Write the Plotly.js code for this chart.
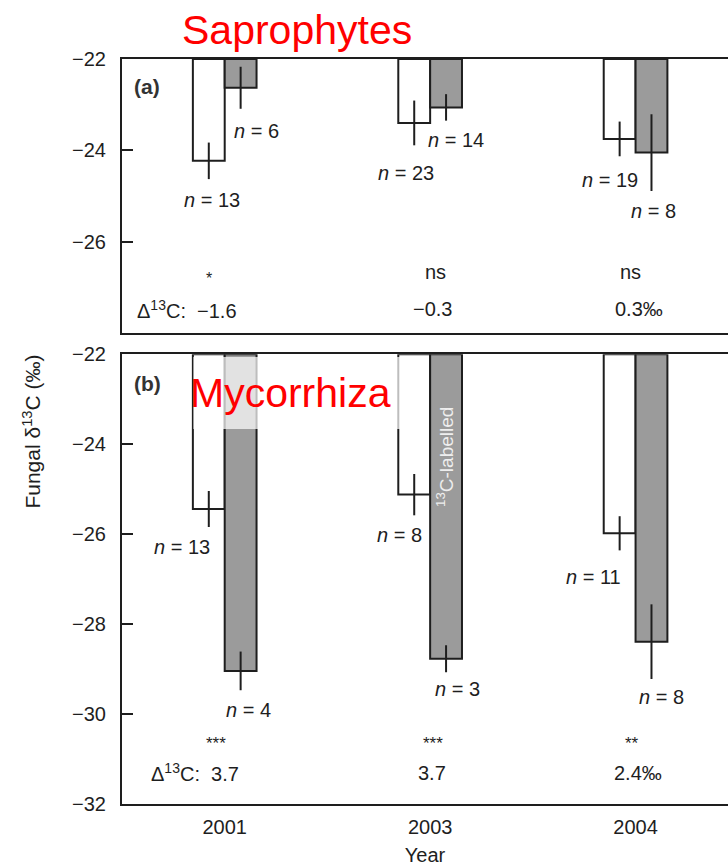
<!DOCTYPE html>
<html>
<head>
<meta charset="utf-8">
<script src="https://cdn.plot.ly/plotly-3.0.1.min.js"></script>
<style>html,body{margin:0;padding:0;background:#fff;}#chart{width:728px;height:866px;}</style>
</head>
<body>
<div id="chart"></div>
<script>
// ---------- data ----------
const years = ['2001', '2003', '2004'];
const topValue = -22;

// (a) Saprophytes
const saproUnlabelled = [-24.23, -23.40, -23.75];
const saproUnlabelledErr = [0.40, 0.49, 0.38];
const saproLabelled = [-22.63, -23.06, -24.05];
const saproLabelledErr = [0.46, 0.29, 0.84];
const saproNUnlabelled = [13, 23, 19];
const saproNLabelled = [6, 14, 8];
const saproSignif = ['*', 'ns', 'ns'];
const saproDelta = ['\u22121.6', '\u22120.3', '0.3\u2030'];

// (b) Mycorrhiza
const mycoUnlabelled = [-25.44, -25.12, -25.98];
const mycoUnlabelledErr = [0.40, 0.46, 0.38];
const mycoLabelled = [-29.04, -28.77, -28.39];
const mycoLabelledErr = [0.43, 0.30, 0.83];
const mycoNUnlabelled = [13, 8, 11];
const mycoNLabelled = [4, 3, 8];
const mycoSignif = ['***', '***', '**'];
const mycoDelta = ['3.7', '3.7', '2.4\u2030'];

// ---------- label placement (layout only) ----------
const saproNUnlabPos = [[-0.062, -25.08], [0.884, -24.50], [1.877, -24.64]];
const saproNLabPos   = [[0.153, -23.57], [1.127, -23.77], [2.086, -25.32]];
const saproSigPos    = [[-0.075, -26.80], [1.025, -26.67], [1.975, -26.67]];
const saproDeltaPos  = [[-0.436, -27.48], [1.010, -27.48], [2.018, -27.48]];

const mycoNUnlabPos = [[-0.207, -26.28], [0.850, -26.02], [1.794, -26.95]];
const mycoNLabPos   = [[0.114, -29.90], [1.132, -29.44], [2.125, -29.61]];
const mycoSigPos    = [[-0.041, -30.66], [1.015, -30.66], [1.984, -30.66]];
const mycoDeltaPos  = [[-0.368, -31.30], [1.010, -31.30], [2.013, -31.30]];

const FONT = 'Liberation Sans, Arial, Helvetica, sans-serif';
const INK = '#1e1e1e';
const GREY = '#9b9b9b';

function barTrace(vals, errs, fill, xa, ya, name) {
  return {
    type: 'bar', name: name, x: years,
    y: vals.map(v => v - topValue), base: topValue,
    xaxis: xa, yaxis: ya,
    marker: {color: fill, line: {color: INK, width: 2}},
    error_y: {type: 'data', array: errs, visible: true, color: INK, thickness: 2, width: 0},
    showlegend: false, hoverinfo: 'skip'
  };
}

const traces = [
  barTrace(saproUnlabelled, saproUnlabelledErr, '#ffffff', 'x', 'y', 'unlabelled'),
  barTrace(saproLabelled, saproLabelledErr, GREY, 'x', 'y', 'labelled'),
  barTrace(mycoUnlabelled, mycoUnlabelledErr, '#ffffff', 'x2', 'y2', 'unlabelled'),
  barTrace(mycoLabelled, mycoLabelledErr, GREY, 'x2', 'y2', 'labelled')
];

const annotations = [];
function txt(text, x, y, xr, yr, opts) {
  annotations.push(Object.assign({
    text: text, x: x, y: y, xref: xr, yref: yr, showarrow: false,
    xanchor: 'center', yanchor: 'middle',
    font: {family: FONT, size: 20, color: INK}
  }, opts || {}));
}

// panel (a)
for (let i = 0; i < years.length; i++) {
  txt('<i>n</i> = ' + saproNUnlabelled[i], saproNUnlabPos[i][0], saproNUnlabPos[i][1], 'x', 'y');
  txt('<i>n</i> = ' + saproNLabelled[i], saproNLabPos[i][0], saproNLabPos[i][1], 'x', 'y');
  txt(saproSignif[i], saproSigPos[i][0], saproSigPos[i][1], 'x', 'y',
      saproSignif[i].indexOf('*') >= 0 ? {font: {family: FONT, size: 16, color: INK}} : {});
  if (i === 0) {
    txt('\u0394<sup>13</sup>C:\u00a0 ' + saproDelta[i], saproDeltaPos[i][0], saproDeltaPos[i][1], 'x', 'y', {xanchor: 'left'});
  } else {
    txt(saproDelta[i], saproDeltaPos[i][0], saproDeltaPos[i][1], 'x', 'y');
  }
}
// panel (b)
for (let i = 0; i < years.length; i++) {
  txt('<i>n</i> = ' + mycoNUnlabelled[i], mycoNUnlabPos[i][0], mycoNUnlabPos[i][1], 'x2', 'y2');
  txt('<i>n</i> = ' + mycoNLabelled[i], mycoNLabPos[i][0], mycoNLabPos[i][1], 'x2', 'y2');
  txt(mycoSignif[i], mycoSigPos[i][0], mycoSigPos[i][1], 'x2', 'y2', {font: {family: FONT, size: 17, color: INK}});
  if (i === 0) {
    txt('\u0394<sup>13</sup>C:\u00a0 ' + mycoDelta[i], mycoDeltaPos[i][0], mycoDeltaPos[i][1], 'x2', 'y2', {xanchor: 'left'});
  } else {
    txt(mycoDelta[i], mycoDeltaPos[i][0], mycoDeltaPos[i][1], 'x2', 'y2');
  }
}
txt('<b>(a)</b>', -0.377, -22.61, 'x', 'y', {font: {family: FONT, size: 21, color: '#333'}});
txt('<b>(b)</b>', -0.377, -22.64, 'x2', 'y2', {font: {family: FONT, size: 21, color: '#333'}});
txt('Saprophytes', 0.289, 1.039, 'paper', 'paper', {font: {family: FONT, size: 41, color: '#ff0000'}});
txt('Mycorrhiza', 0.319, -22.86, 'x2', 'y2', {font: {family: FONT, size: 41, color: '#ff0000'}});
txt('<sup>13</sup>C-labelled', 1.073, -24.28, 'x2', 'y2', {textangle: -90, font: {family: FONT, size: 19, color: '#eeeeee'}});
txt('Fungal \u03b4<sup>13</sup>C (\u2030)', -0.150, 0.5, 'paper', 'paper', {textangle: -90, font: {family: FONT, size: 21, color: INK}});

const axisCommon = {
  showline: true, linecolor: INK, linewidth: 2, showgrid: false, zeroline: false,
  tickfont: {family: FONT, size: 20, color: INK}, fixedrange: true
};

const layout = {
  width: 728, height: 866,
  margin: {l: 122, r: 0, t: 59, b: 62},
  paper_bgcolor: '#ffffff', plot_bgcolor: '#ffffff',
  barmode: 'group', bargap: 0.69, bargroupgap: 0,
  showlegend: false,
  font: {family: FONT, color: INK},
  xaxis: Object.assign({}, axisCommon, {
    type: 'category', range: [-0.5, 2.45], anchor: 'y', mirror: true,
    ticks: '', showticklabels: false
  }),
  yaxis: Object.assign({}, axisCommon, {
    domain: [0.6322, 1], range: [-28, -22], anchor: 'x',
    tickvals: [-22, -24, -26], ticktext: ['\u221222', '\u221224', '\u221226'],
    ticks: 'inside', ticklen: 11, tickwidth: 2, tickcolor: INK, ticklabelstandoff: 10
  }),
  xaxis2: Object.assign({}, axisCommon, {
    type: 'category', range: [-0.5, 2.45], anchor: 'y2', mirror: true,
    ticks: '', ticklabelstandoff: 4,
    title: {text: 'Year', font: {family: FONT, size: 20, color: INK}, standoff: 14}
  }),
  yaxis2: Object.assign({}, axisCommon, {
    domain: [0, 0.6036], range: [-32, -22], anchor: 'x2',
    tickvals: [-22, -24, -26, -28, -30, -32],
    ticktext: ['\u221222', '\u221224', '\u221226', '\u221228', '\u221230', '\u221232'],
    ticks: 'inside', ticklen: 11, tickwidth: 2, tickcolor: INK, ticklabelstandoff: 10
  }),
  shapes: [{
    type: 'rect', xref: 'x2', yref: 'y2', x0: -0.153, x1: 0.869, y0: -22.06, y1: -23.66,
    fillcolor: 'rgba(255,255,255,0.71)', line: {width: 0}, layer: 'above'
  }],
  annotations: annotations
};

Plotly.newPlot('chart', traces, layout, {displayModeBar: false, staticPlot: true});
</script>
</body>
</html>
